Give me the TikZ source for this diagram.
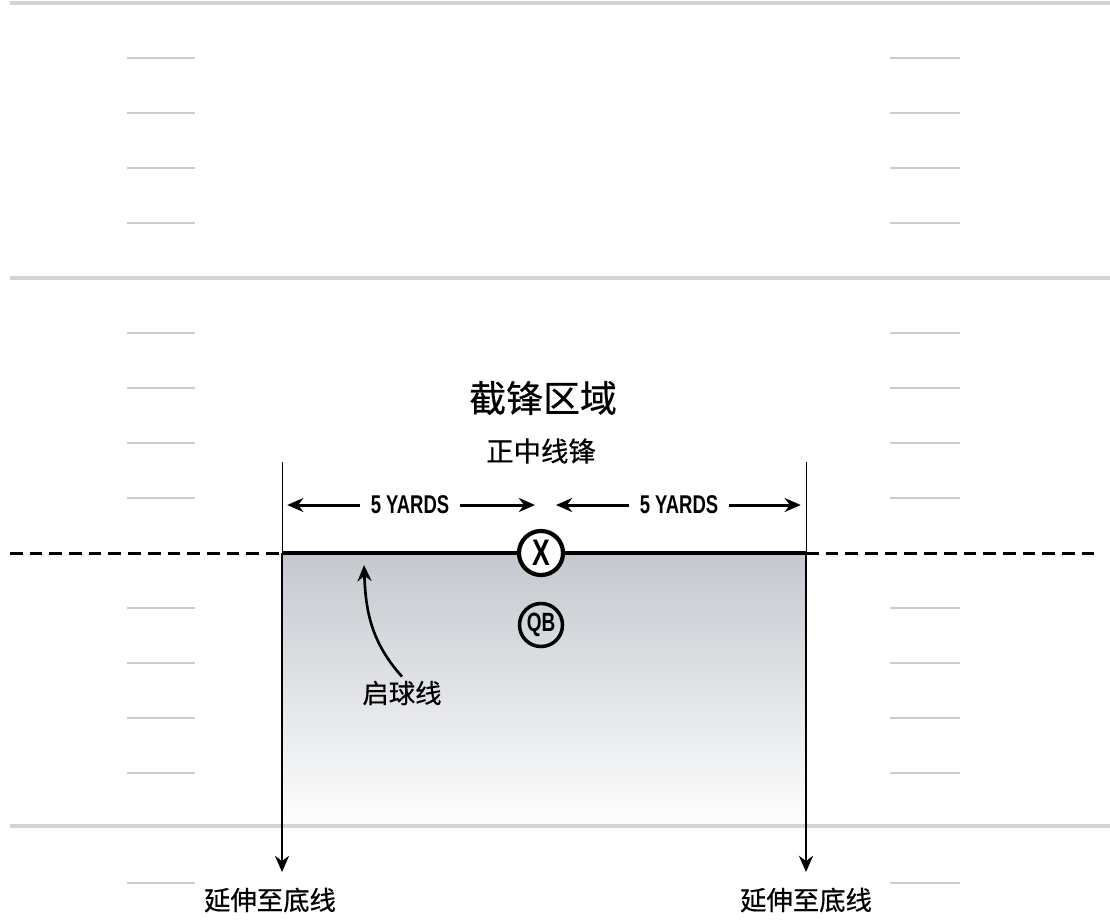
\documentclass[tikz,border=0pt]{standalone}
\usepackage{fontspec}
\setmainfont{Liberation Sans}
\newfontfamily\cjk[FakeBold=0.5]{Noto Sans CJK SC}
\newfontfamily\narrow[FakeStretch=0.72]{Liberation Sans}
\usetikzlibrary{calc,positioning,arrows.meta}
\definecolor{fieldgray}{RGB}{196,200,206}
\tikzset{
  yardline/.style={black!17, line width=0.9pt},
  hashmark/.style={black!20, line width=0.55pt},
  player/.style={circle, draw, inner sep=0pt},
  cjklabel/.style={font=\cjk\fontsize{7.5}{9}\selectfont, inner sep=1pt},
  yards/.style={font=\narrow\bfseries\fontsize{7.3}{9}\selectfont, inner sep=3pt},
}

\begin{document}
\begin{tikzpicture}[>={Stealth[length=4.6pt,width=4pt]},x=0.01cm,y=-0.01cm]
    \useasboundingbox (0,0) rectangle (1110,921);

%the box behind the line of scrimmage
    \def \l{282};
    \def \r{806};
    \def \s{553};
    \shade[top color=fieldgray, bottom color=white] (\l,\s) rectangle (\r,832);

%yard lines and hash marks
    \foreach \y in {3,278,826} \draw[yardline] (10,\y) -- (1110,\y);
    \foreach \y in {58,113,168,223,333,388,443,498,608,663,718,773,883} {
    \draw[hashmark] (127,\y) -- (195,\y);
    \draw[hashmark] (890,\y) -- (960,\y);    }

%line of scrimmage
    \coordinate (losl) at (\l,\s);
    \coordinate (losr) at (\r,\s);
    \draw[line width=0.85pt, dash pattern=on 3.6pt off 2pt] (10,\s) -- (losl) (losr) -- (1100,\s);
    \draw[line width=0.95pt] (losl) -- (losr);
    \node[player, fill=white, line width=1.2pt, minimum size=0.44cm, font=\narrow\bfseries\fontsize{10.5}{10}\selectfont] (center) at (541,\s) {X};
    \node[player, line width=1pt, minimum size=0.43cm, font=\narrow\bfseries\fontsize{7.5}{7}\selectfont] (qb) at (541,625) {QB};

%sides of the box, down to the end line
    \coordinate (endl) at (\l,872);
    \coordinate (endr) at (\r,872);
    \draw[->, line width=0.75pt] (losl) -- (endl);
    \draw[->, line width=0.75pt] (losr) -- (endr);
    \node[cjklabel] (goall) at (270,900) {延伸至底线};
    \node[cjklabel] (goalr) at (806,900) {延伸至底线};

%five yards each side
    \coordinate (topl) at (\l,462);
    \coordinate (topr) at (\r,462);
    \draw[very thin] (topl) -- (losl);
    \draw[very thin] (topr) -- (losr);
    \coordinate (midl) at (535,505);
    \coordinate (midr) at (556,505);
    \node[yards] (yardsl) at (410,505) {5 YARDS};
    \node[yards] (yardsr) at (679,505) {5 YARDS};
    \draw[->, line width=0.85pt, shorten >=1.5pt] (yardsl.west) -- (yardsl -| topl);
    \draw[->, line width=0.85pt] (yardsl.east) -- (midl);
    \draw[->, line width=0.85pt] (yardsr.west) -- (midr);
    \draw[->, line width=0.85pt, shorten >=1.5pt] (yardsr.east) -- (yardsr -| topr);

%labels
    \node[font=\cjk\fontsize{10.5}{12}\selectfont] (zone) at (543,398) {截锋区域};
    \node[cjklabel, font=\cjk\fontsize{7.8}{9}\selectfont] (centerlab) at (541,451) {正中线锋};
    \node[cjklabel] (loslab) at (402,693) {启球线};
    \coordinate (lostip) at (364,565);
    \draw[->, line width=0.75pt] (loslab.north) to[out=132,in=-88] (lostip);
\end{tikzpicture}
\end{document}
